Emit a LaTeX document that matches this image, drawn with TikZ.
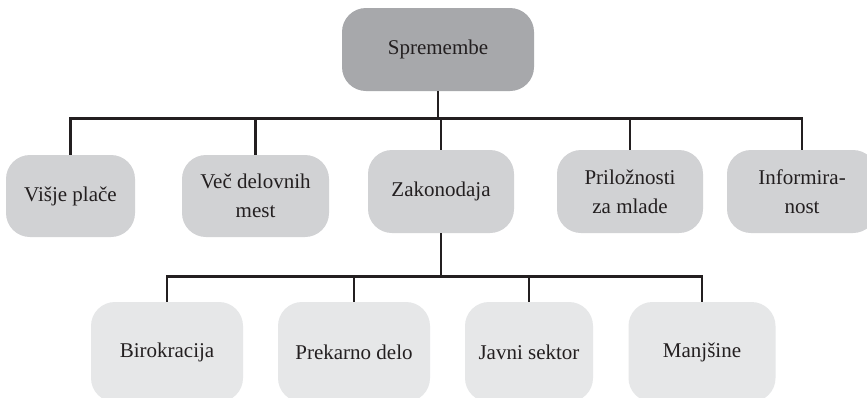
\documentclass[tikz,border=0pt]{standalone}
\usepackage{tikz}
\usepackage{fontspec}
\setmainfont{Liberation Serif}
\definecolor{darkbox}{RGB}{167,168,171}
\definecolor{midbox}{RGB}{209,210,212}
\definecolor{lightbox}{RGB}{230,231,232}
\definecolor{ink}{RGB}{35,31,32}

\begin{document}
\begin{tikzpicture}[x=1pt, y=1pt,
    box/.style={rounded corners=24pt, draw=none, text=ink, align=center,
      inner sep=0pt, font=\fontsize{21}{29}\selectfont},
    link/.style={draw=ink, line width=2.6pt}]
  \useasboundingbox[fill=white] (0,0) rectangle (867,-397);
  \node[box, fill=darkbox, minimum width=192pt, minimum height=83pt] (top) at (438,-49.5) {Spremembe};
  \node[box, fill=midbox, minimum width=129pt, minimum height=82pt] (vis) at (70.5,-196) {Višje plače};
  \node[box, fill=midbox, minimum width=147pt, minimum height=82pt] (vec) at (255.5,-196) {Več delovnih\\mest};
  \node[box, fill=midbox, minimum width=146pt, minimum height=83pt] (zak) at (441,-191.5) {Zakonodaja};
  \node[box, fill=midbox, minimum width=146pt, minimum height=83pt] (pri) at (630,-191.5) {Priložnosti\\za mlade};
  \node[box, fill=midbox, minimum width=150pt, minimum height=83pt] (inf) at (802,-191.5) {Informira-\\nost};
  \node[box, fill=lightbox, minimum width=152pt, minimum height=100pt] (bir) at (167,-352) {Birokracija};
  \node[box, fill=lightbox, minimum width=152pt, minimum height=100pt] (pre) at (354,-352) {Prekarno delo};
  \node[box, fill=lightbox, minimum width=128pt, minimum height=100pt] (jav) at (529,-352) {Javni sektor};
  \node[box, fill=lightbox, minimum width=147pt, minimum height=100pt] (man) at (702,-352) {Manjšine};
  \draw[link] (top.south) -- ++(0,-27) -| (vis.north);
  \draw[link] (top.south) -- ++(0,-27) -| (vec.north);
  \draw[link] (top.south) -- ++(0,-27) -| (zak.north);
  \draw[link] (top.south) -- ++(0,-27) -| (pri.north);
  \draw[link] (top.south) -- ++(0,-27) -| (inf.north);
  \draw[link] (zak.south) -- ++(0,-43) -| (bir.north);
  \draw[link] (zak.south) -- ++(0,-43) -| (pre.north);
  \draw[link] (zak.south) -- ++(0,-43) -| (jav.north);
  \draw[link] (zak.south) -- ++(0,-43) -| (man.north);
\end{tikzpicture}
\end{document}
